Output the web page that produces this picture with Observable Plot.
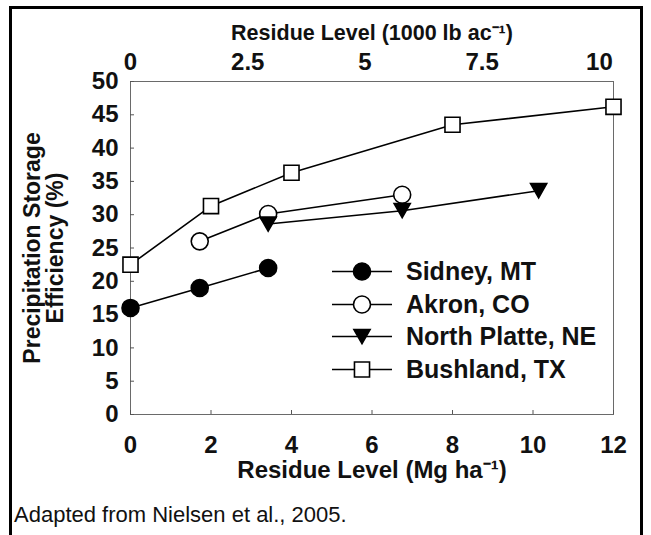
<!DOCTYPE html>
<html>
<head>
<meta charset="utf-8">
<script src="https://cdn.jsdelivr.net/npm/d3@7"></script>
<script src="https://cdn.jsdelivr.net/npm/@observablehq/plot@0.6"></script>
<style>
  body { margin: 0; background: #fff; }
  #wrap { position: relative; width: 651px; height: 535px; overflow: hidden; background: #fff;
          font-family: "Liberation Sans", Arial, Helvetica, sans-serif; }
  #border { position: absolute; left: 9px; top: 6px; width: 634px; height: 600px;
            border: 3px solid #000; box-sizing: border-box; pointer-events: none; }
  #chart { position: absolute; left: 0; top: 0; }
  #legend { position: absolute; left: 331px; top: 255px; }
  .row { display: flex; align-items: center; height: 32.7px; }
  .row span { margin-left: 13px; font-size: 25px; font-weight: bold; color: #111; white-space: nowrap; }
  #caption { position: absolute; left: 14px; top: 502px; font-size: 22px; color: #111; white-space: nowrap; }
</style>
</head>
<body>
<div id="wrap">
  <div id="chart"></div>
  <div id="legend"></div>
  <div id="caption">Adapted from Nielsen et al., 2005.</div>
  <div id="border"></div>
</div>
<script>
// ---- data ----
const siteNames = ["Sidney, MT", "Akron, CO", "North Platte, NE", "Bushland, TX"];

const sidneyX = [0, 1.72, 3.42];
const sidneyY = [16.0, 19.0, 22.0];

const akronX = [1.72, 3.42, 6.75];
const akronY = [26.0, 30.1, 33.0];

const northPlatteX = [3.42, 6.75, 10.14];
const northPlatteY = [28.6, 30.6, 33.6];

const bushlandX = [0, 2.0, 4.0, 8.0, 12.0];
const bushlandY = [22.5, 31.3, 36.3, 43.5, 46.2];

const xTicks = [0, 2, 4, 6, 8, 10, 12];
const yTicks = [0, 5, 10, 15, 20, 25, 30, 35, 40, 45, 50];
const topTicks = [0, 2.5, 5, 7.5, 10];          // 1000 lb ac-1
const topTickLabels = ["0", "2.5", "5", "7.5", "10"];
const topToBottom = 1.165;                       // placement of the top scale as drawn in the figure

const topTitle = "Residue Level (1000 lb ac\u207B\u00B9)";
const bottomTitle = "Residue Level (Mg ha\u207B\u00B9)";
const yTitle = "Precipitation Storage\nEfficiency (%)";

// ---- build tables ----
const series = [
  {name: siteNames[0], xs: sidneyX, ys: sidneyY},
  {name: siteNames[1], xs: akronX, ys: akronY},
  {name: siteNames[2], xs: northPlatteX, ys: northPlatteY},
  {name: siteNames[3], xs: bushlandX, ys: bushlandY}
].map(s => ({name: s.name, data: s.xs.map((x, i) => ({x, y: s.ys[i], site: s.name}))}));

const triangleDown = {
  draw(ctx, size) {
    const r = Math.sqrt(size / Math.PI);
    const w = r * 0.95, h = r * 0.83;
    ctx.moveTo(-w, -h);
    ctx.lineTo(w, -h);
    ctx.lineTo(0, h);
    ctx.closePath();
  }
};

const styles = [
  {symbol: "circle", fill: "#000"},
  {symbol: "circle", fill: "#fff"},
  {symbol: triangleDown, fill: "#000"},
  {symbol: "square", fill: "#fff"}
];
const R = 8.5;
const font = "'Liberation Sans', Arial, Helvetica, sans-serif";

const marks = [
  Plot.frame({stroke: "#6a6a6a", strokeWidth: 1}),
  // inward tick marks
  Plot.axisY({ticks: yTicks, tickSize: 4, dx: 4, tickFormat: () => "", label: null, stroke: "#555"}),
  Plot.axisX({ticks: xTicks, tickSize: 4, dy: -4, tickFormat: () => "", label: null, stroke: "#555"}),
  // tick labels
  Plot.axisY({ticks: yTicks, tickSize: 0, tickPadding: 12, fontSize: 24, fontWeight: "bold", label: null}),
  Plot.axisX({ticks: xTicks, tickSize: 0, tickPadding: 21, fontSize: 24, fontWeight: "bold", label: null}),
  Plot.axisX({anchor: "top", ticks: topTicks.map(v => v * topToBottom), tickSize: 0, tickPadding: 12,
              tickFormat: (d, i) => topTickLabels[i], fontSize: 24, fontWeight: "bold", label: null}),
  // titles
  Plot.text([topTitle], {text: d => d, frameAnchor: "top", dy: -57, fontSize: 21.5, fontWeight: "bold"}),
  Plot.text([bottomTitle], {text: d => d, frameAnchor: "bottom", dy: 63, fontSize: 24, fontWeight: "bold"}),
  Plot.text([yTitle], {text: d => d, frameAnchor: "left", textAnchor: "middle", dx: -86.5, rotate: -90,
                       fontSize: 23, fontWeight: "bold", lineHeight: 1.02})
];

series.forEach((s, i) => {
  marks.push(Plot.line(s.data, {x: "x", y: "y", stroke: "#000", strokeWidth: 1.6}));
});
series.forEach((s, i) => {
  marks.push(Plot.dot(s.data, {x: "x", y: "y", r: R, symbol: styles[i].symbol,
                               fill: styles[i].fill, stroke: "#000", strokeWidth: 1.6}));
});

const chart = Plot.plot({
  width: 651,
  height: 500,
  marginLeft: 130,
  marginRight: 38,
  marginTop: 81,
  marginBottom: 86,
  x: {domain: [0, 12]},
  y: {domain: [0, 50]},
  style: {fontFamily: font, color: "#111", background: "transparent", overflow: "visible"},
  marks
});
document.getElementById("chart").appendChild(chart);

// ---- legend ----
const legend = d3.select("#legend");
series.forEach((s, i) => {
  const row = legend.append("div").attr("class", "row");
  const svg = row.append("svg").attr("width", 62).attr("height", 33);
  svg.append("line").attr("x1", 1).attr("x2", 61).attr("y1", 16.5).attr("y2", 16.5)
     .attr("stroke", "#000").attr("stroke-width", 1.6);
  const sym = typeof styles[i].symbol === "string"
    ? (styles[i].symbol === "circle" ? d3.symbolCircle : d3.symbolSquare)
    : styles[i].symbol;
  svg.append("path").attr("d", d3.symbol(sym, Math.PI * R * R)())
     .attr("transform", "translate(31,16.5)")
     .attr("fill", styles[i].fill).attr("stroke", "#000").attr("stroke-width", 1.6);
  row.append("span").text(s.name);
});
</script>
</body>
</html>
